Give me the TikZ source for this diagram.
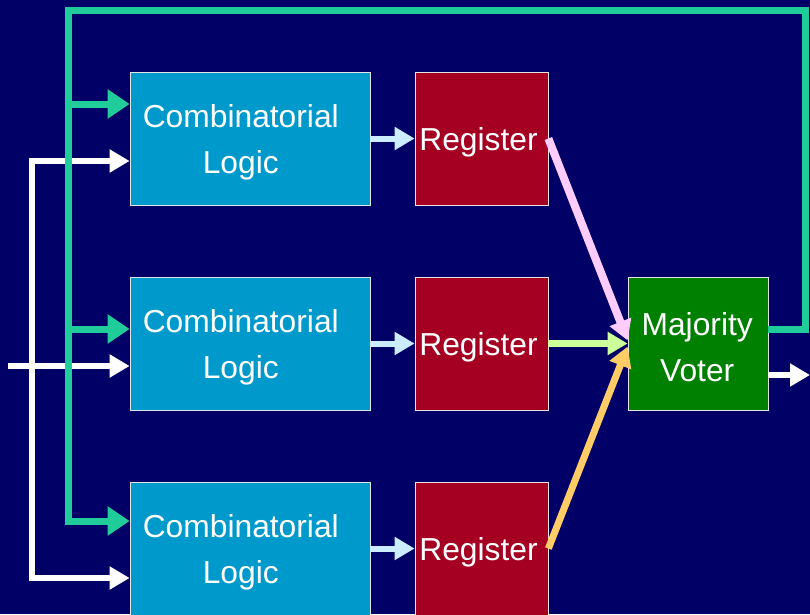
\documentclass[tikz,border=0pt]{standalone}
\usepackage{fontspec}
\setsansfont{Liberation Sans}
\usetikzlibrary{arrows.meta,calc}

\definecolor{navy}{RGB}{0,0,102}
\definecolor{logicblue}{RGB}{0,153,204}
\definecolor{regred}{RGB}{165,0,33}
\definecolor{votegreen}{RGB}{0,128,0}
\definecolor{fbgreen}{RGB}{32,204,153}
\definecolor{paleblue}{RGB}{204,236,255}
\definecolor{palepink}{RGB}{255,204,255}
\definecolor{palelime}{RGB}{204,255,153}
\definecolor{paleorange}{RGB}{255,204,102}

\tikzset{
  block/.style={draw=white!80!gray, line width=0.5pt, inner sep=0pt, minimum height=33.25mm},
  txt/.style={text=white, inner sep=0pt, align=center, yshift=-1mm,
    font=\sffamily\fontsize{22.6}{32.7}\selectfont},
  logic/.style={block, fill=logicblue, minimum width=60mm,
    label={[txt, xshift=-2.3mm]center:Combinatorial\\Logic}},
  reg/.style={block, fill=regred, minimum width=33.25mm,
    label={[txt, xshift=-0.75mm]center:Register}},
  voter/.style={block, fill=votegreen, minimum width=35mm,
    label={[txt, xshift=-0.2mm]center:Majority\\Voter}},
  fbline/.style={fbgreen, line width=1.75mm, line join=miter,
    -{Triangle[length=5.5mm, width=7mm]}},
  inline/.style={white, line width=1.5mm, line join=miter,
    -{Triangle[length=5mm, width=5.5mm]}},
  pass/.style={line width=1.5mm, -{Triangle[length=5mm, width=5.5mm]}}
}

\begin{document}
\begin{tikzpicture}[x=0.25mm, y=-0.25mm]
  \fill[navy] (0,0) rectangle (810,614);
  \useasboundingbox (0,0) rectangle (810,614);
  \clip (0,0) rectangle (810,614);

  % 三路组合逻辑和寄存器
  \node[logic] (cl1) at (250,138.5) {};
  \node[logic] (cl2) at (250,343.5) {};
  \node[logic] (cl3) at (250,548.5) {};

  \node[reg] (rg1) at (481.5,138.5) {};
  \node[reg] (rg2) at (481.5,343.5) {};
  \node[reg] (rg3) at (481.5,548.5) {};

  % 表决器
  \node[voter] (mv) at (698,343.5) {};

  % 逻辑 -> 寄存器
  \draw[pass, paleblue] (cl1.east) -- (rg1.west);
  \draw[pass, paleblue] (cl2.east) -- (rg2.west);
  \draw[pass, paleblue] (cl3.east) -- (rg3.west);

  % 寄存器 -> 表决器
  \draw[pass, palepink, line width=2mm] (rg1.east) -- ($(mv.west)+(0,-3)$);
  \draw[pass, palelime, line width=1.75mm] (rg2.east) -- (mv.west);
  \draw[pass, paleorange, line width=1.75mm] (rg3.east) -- ($(mv.west)+(0,3)$);

  % 输入
  \coordinate (in) at (8,366);
  \coordinate (wtop) at (32,161);
  \coordinate (wbot) at (32,578);
  \draw[inline] (in) -- (in -| cl2.west);
  \draw[inline, {Triangle[length=5mm, width=5.5mm]}-{Triangle[length=5mm, width=5.5mm]}]
    (wbot -| cl3.west) -- (wbot) -- (wtop) -- (wtop -| cl1.west);

  % 输出
  \coordinate (out) at (810,375);
  \draw[inline] (mv.east |- out) -- (out);

  % 反馈
  \coordinate (fbtap) at (805,329);
  \coordinate (fbtop) at (68,10);
  \coordinate (fb1) at (68,104);
  \coordinate (fb2) at (68,329);
  \coordinate (fb3) at (68,521);
  \draw[fbline] (mv.east |- fbtap) -- (fbtap) |- (fbtop) -- (fb3) -- (fb3 -| cl3.west);
  \draw[fbline] (fb1) -- (fb1 -| cl1.west);
  \draw[fbline] (fb2) -- (fb2 -| cl2.west);
\end{tikzpicture}
\end{document}
